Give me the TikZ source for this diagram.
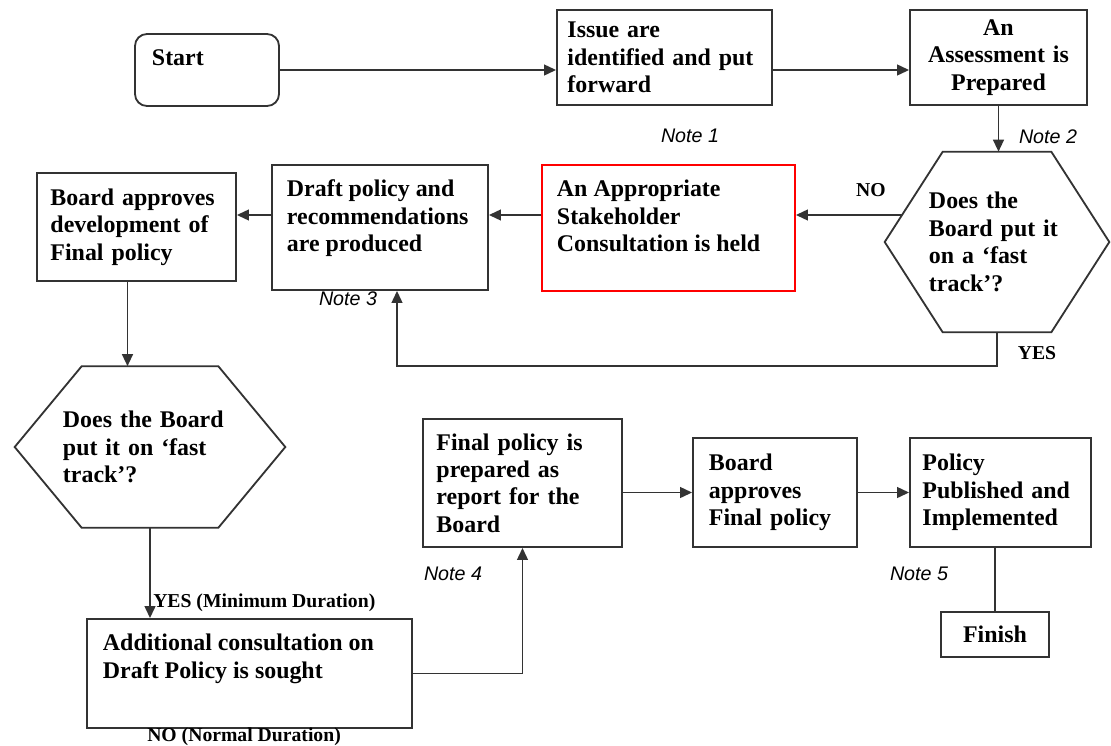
\documentclass[tikz,border=0pt]{standalone}
\usepackage{fontspec}
\setmainfont{Liberation Serif}
\newfontfamily\notefont{Liberation Sans}
\usetikzlibrary{arrows.meta}

\newcommand{\toptext}[3]{\parbox[c][#1][t]{#2}{\raggedright #3}}

\tikzset{
  wire/.style={draw=black!80, line width=1.3pt},
  flow/.style={wire, -{Triangle[length=3mm,width=2.7mm]}},
  stepbox/.style={wire, rectangle, inner sep=0pt, align=left, font=\bfseries\fontsize{17}{19.5}\selectfont},
  hexbox/.style={inner sep=0pt, align=left, font=\bfseries\fontsize{17}{19.5}\selectfont},
  tag/.style={font=\bfseries\fontsize{14}{16}\selectfont, inner sep=0pt},
  note/.style={font=\notefont\itshape\fontsize{14}{16}\selectfont, inner sep=0pt},
}

\begin{document}
\begin{tikzpicture}[x=0.025cm, y=-0.025cm]
  \useasboundingbox (0,0) rectangle (1111,745);

  % top row
  \node[stepbox, rounded corners=0.3cm, minimum width=3.6cm, minimum height=1.8cm] (start) at (207,70) {\toptext{1.0cm}{2.75cm}{Start}};
  \node[stepbox, minimum width=5.375cm, minimum height=2.375cm, text width=4.85cm] (issue) at (664.5,57.5) {Issue are\\identified and put\\forward};
  \node[stepbox, minimum width=4.425cm, minimum height=2.375cm, text width=3.9cm, align=center] (assess) at (998.5,57.5) {An\\Assessment is\\Prepared};

  % second row
  \node[hexbox, minimum width=5.6cm, minimum height=4.5cm, text width=3.4cm] (fastA) at (997,242) {Does the\\Board put it\\on a `fast\\track'?};
  \draw[wire] ([xshift=1.45cm]fastA.north west) -- ([xshift=-1.45cm]fastA.north east) -- (fastA.east)
    -- ([xshift=-1.45cm]fastA.south east) -- ([xshift=1.45cm]fastA.south west) -- (fastA.west) -- cycle;
  \node[stepbox, draw=red, minimum width=6.325cm, minimum height=3.15cm] (consult) at (668.5,228) {\toptext{2.4cm}{5.575cm}{An Appropriate\\Stakeholder\\Consultation is held}};
  \node[stepbox, minimum width=5.4cm, minimum height=3.125cm] (draft) at (380,227.5) {\toptext{2.375cm}{4.65cm}{Draft policy and\\recommendations\\are produced}};
  \node[stepbox, minimum width=4.975cm, minimum height=2.7cm, text width=4.3cm] (boardDev) at (136.5,227) {Board approves\\development of\\Final policy};

  % third row
  \node[hexbox, minimum width=6.75cm, minimum height=4.025cm, text width=4.35cm] (fastB) at (150,447) {Does the Board\\put it on `fast\\track'?};
  \draw[wire] ([xshift=1.675cm]fastB.north west) -- ([xshift=-1.675cm]fastB.north east) -- (fastB.east)
    -- ([xshift=-1.675cm]fastB.south east) -- ([xshift=1.675cm]fastB.south west) -- (fastB.west) -- cycle;
  \node[stepbox, minimum width=4.975cm, minimum height=3.2cm, text width=4.3cm] (final) at (522.5,483) {Final policy is\\prepared as\\report for the\\Board};
  \node[stepbox, minimum width=4.1cm, minimum height=2.725cm, text width=3.3cm] (boardFinal) at (775,492.5) {Board\\approves\\Final policy};
  \node[stepbox, minimum width=4.525cm, minimum height=2.725cm, text width=3.9cm] (policy) at (1000.5,492.5) {Policy\\Published and\\Implemented};

  % bottom row
  \node[stepbox, minimum width=8.125cm, minimum height=2.725cm] (extra) at (249.5,673.5) {\toptext{1.975cm}{7.325cm}{Additional consultation on\\Draft Policy is sought}};
  \node[stepbox, minimum width=2.7cm, minimum height=1.125cm, align=center] (finish) at (995,634.5) {Finish};

  % labels
  \node[tag] (noLbl) at (871,190) {NO};
  \node[tag] (yesLbl) at (1037,353) {YES};
  \node[tag, anchor=west] (yesMin) at (153,603) {YES (Minimum Duration)};
  \node[tag, anchor=west] (noNormal) at (147,737) {NO (Normal Duration)};
  \node[note] (noteA) at (690,136) {Note 1};
  \node[note] (noteB) at (1048,137) {Note 2};
  \node[note] (noteC) at (348,299) {Note 3};
  \node[note] (noteD) at (453,574) {Note 4};
  \node[note] (noteE) at (919,574) {Note 5};

  % connectors
  \draw[flow] (start.east) -- (start.east -| issue.west);
  \draw[flow] (issue.east |- start.east) -- (assess.west |- start.east);
  \draw[flow] (assess.south) -- (assess.south |- fastA.north);
  \coordinate (noFrom) at ([xshift=0.435cm,yshift=0.675cm]fastA.west);
  \draw[flow] (noFrom) -- (noFrom -| consult.east);
  \draw[flow] (consult.west |- noFrom) -- (draft.east |- noFrom);
  \draw[flow] (draft.west |- noFrom) -- (boardDev.east |- noFrom);
  \draw[flow] (fastA.south) -- ++(0,34) -| ([xshift=0.425cm]draft.south);
  \draw[flow] ([xshift=-0.225cm]boardDev.south) -- ([xshift=-0.225cm]boardDev.south |- fastB.north);
  \draw[flow] (fastB.south) -- (fastB.south |- extra.north);
  \draw[flow] (extra.east) -| (final.south);
  \draw[flow] (final.east |- boardFinal.west) -- (boardFinal.west);
  \draw[flow] (boardFinal.east) -- (policy.west);
  \draw[wire] (finish.north |- policy.south) -- (finish.north);
\end{tikzpicture}
\end{document}
